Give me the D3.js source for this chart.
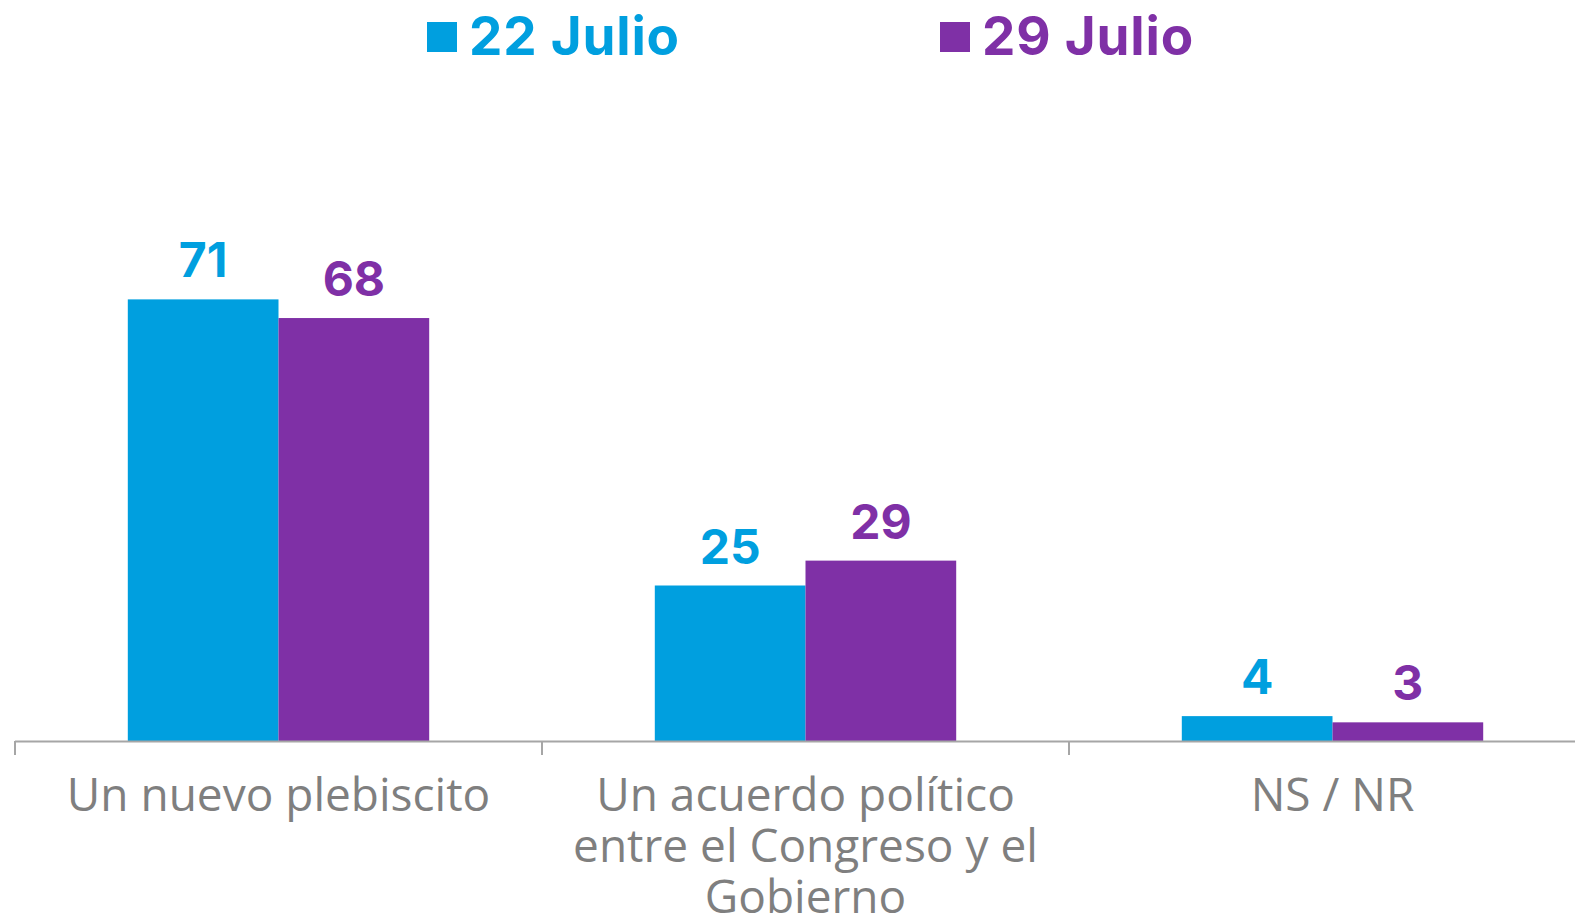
<!DOCTYPE html>
<html><head><meta charset="utf-8">
<script src="https://cdn.jsdelivr.net/npm/d3@7/dist/d3.min.js"></script>
<style>
html,body{margin:0;padding:0;background:#fff;overflow:hidden;}
svg{display:block;}
</style></head>
<body>
<svg id="chart" width="1575" height="918"></svg>
<script>
const categories = ["Un nuevo plebiscito", "Un acuerdo político entre el Congreso y el Gobierno", "NS / NR"];
const seriesNames = ["22 Julio", "29 Julio"];
const values22 = [71, 25, 4];
const values29 = [68, 29, 3];
const colors = ["#009FDF", "#7F30A6"];

const svg = d3.select("#chart");
const bandW = 527;
const x0 = d3.scaleBand().domain(categories).range([15, 15 + bandW * 3]).padding(0);
const groupW = 301.4;
const x1 = d3.scaleBand().domain(seriesNames).range([(bandW - groupW) / 2, (bandW + groupW) / 2]).padding(0);
const y = d3.scaleLinear().domain([0, 100]).range([741, 119]);

const labelFont = "Inter, 'Open Sans', sans-serif";
const catFont = "'Open Sans', sans-serif";

const seriesVals = [values22, values29];
const data = categories.map((c, i) => ({cat: c, vals: seriesNames.map((s, j) => ({s, j, v: seriesVals[j][i]}))}));

const g = svg.append("g");
const groups = g.selectAll("g.grp").data(data).join("g")
  .attr("transform", d => `translate(${x0(d.cat)},0)`);
groups.selectAll("rect").data(d => d.vals).join("rect")
  .attr("x", d => x1(d.s))
  .attr("y", d => y(d.v))
  .attr("width", x1.bandwidth())
  .attr("height", d => y(0) - y(d.v))
  .attr("fill", d => colors[d.j]);
groups.selectAll("text.val").data(d => d.vals).join("text")
  .attr("class", "val")
  .attr("x", d => x1(d.s) + x1.bandwidth() / 2)
  .attr("y", d => y(d.v) - 22)
  .attr("text-anchor", "middle")
  .attr("font-family", labelFont)
  .attr("font-weight", 700)
  .attr("font-size", 48)
  .attr("fill", d => colors[d.j])
  .text(d => d.v);

// axis
const axisY = y(0);
const axisColor = "#A6A6A6";
g.append("line").attr("x1", x0.range()[0]).attr("x2", x0.range()[1])
  .attr("y1", axisY + 0.5).attr("y2", axisY + 0.5)
  .attr("stroke", axisColor).attr("stroke-width", 2);
g.selectAll("line.tick").data(categories).join("line")
  .attr("class", "tick")
  .attr("x1", d => x0(d)).attr("x2", d => x0(d))
  .attr("y1", axisY).attr("y2", axisY + 14)
  .attr("stroke", axisColor).attr("stroke-width", 2);

// category labels with wrapping
const catText = g.selectAll("text.cat").data(categories).join("text")
  .attr("class", "cat")
  .attr("x", d => x0(d) + bandW / 2)
  .attr("y", 811)
  .attr("text-anchor", "middle")
  .attr("font-family", catFont)
  .attr("font-size", 46)
  .attr("fill", "#7F7F7F");
catText.each(function(d) {
  const t = d3.select(this);
  const words = d.split(" ");
  const maxW = 485;
  let line = [];
  let tspan = t.append("tspan").attr("x", x0(d) + bandW / 2).attr("dy", 0);
  for (const w of words) {
    line.push(w);
    tspan.text(line.join(" "));
    if (tspan.node().getComputedTextLength() > maxW && line.length > 1) {
      line.pop();
      tspan.text(line.join(" "));
      line = [w];
      tspan = t.append("tspan").attr("x", x0(d) + bandW / 2).attr("dy", 51).text(w);
    }
  }
});

// legend
const legendX = [427, 940];
const leg = svg.selectAll("g.leg").data(seriesNames).join("g")
  .attr("transform", (d, i) => `translate(${legendX[i]},0)`);
leg.append("rect").attr("x", 0).attr("y", 22).attr("width", 30).attr("height", 30)
  .attr("fill", (d, i) => colors[i]);
leg.append("text").attr("x", 42).attr("y", 55)
  .attr("font-family", labelFont).attr("font-weight", 700).attr("font-size", 53)
  .attr("letter-spacing", 0.8)
  .attr("fill", (d, i) => colors[i]).text(d => d);
</script>
</body></html>
